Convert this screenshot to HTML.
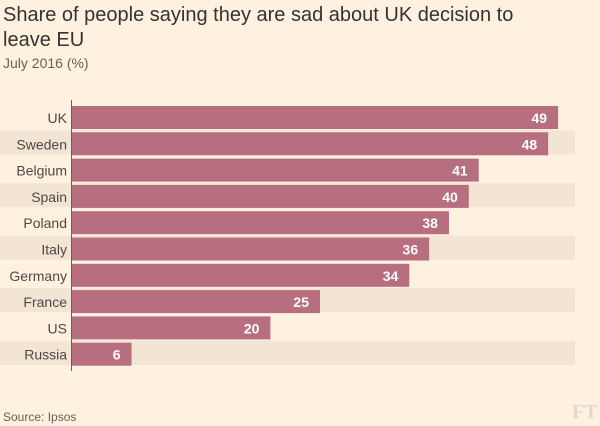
<!DOCTYPE html>
<html><head><meta charset="utf-8"><style>
body{margin:0;background:#fff1e0;width:600px;height:426px;overflow:hidden;font-family:"Liberation Sans",sans-serif;}
#t{position:absolute;left:3px;top:3px;font-size:20px;line-height:25px;color:#333;width:555px;}
#s{position:absolute;left:3px;top:55px;font-size:14px;color:#66605c;}
#src{position:absolute;left:3px;top:410px;font-size:12px;color:#66605c;}
#ft{position:absolute;left:572px;top:401px;font-size:20px;font-family:"Liberation Serif",serif;color:#e0d8cc;font-weight:bold;}
</style></head><body>
<div id="t">Share of people saying they are sad about UK decision to leave EU</div>
<div id="s">July 2016 (%)</div>
<svg id="c" width="600" height="426" style="position:absolute;left:0;top:0"></svg>
<div id="src">Source: Ipsos</div>
<div id="ft">FT</div>
<script>
const categories=["UK","Sweden","Belgium","Spain","Poland","Italy","Germany","France","US","Russia"];
const values=[49,48,41,40,38,36,34,25,20,6];
const svg=document.getElementById('c');
const NS='http://www.w3.org/2000/svg';
const x0=72, xs=9.92, y0=104, pitch=26.3;
function X(v){return x0+v*xs;}
function Y(i){return y0+i*pitch;}
function mk(tag,a){const e=document.createElementNS(NS,tag);for(const k in a)e.setAttribute(k,a[k]);svg.appendChild(e);return e;}
categories.forEach((c,i)=>{
  if(i%2==1){const r=mk('rect',{x:0,y:Y(i),width:575,height:pitch-2,fill:'#f2e5d4'});
  
  }
});
categories.forEach((c,i)=>{
  const b=mk('rect',{x:x0,y:Y(i)+2,width:X(values[i])-x0,height:23,fill:'#b76e7e'});
  
  
  const l=mk('text',{x:67,y:Y(i)+19,'text-anchor':'end','font-size':14,fill:'#4d4845'});
  l.textContent=c;
  
  
  const v=mk('text',{x:X(values[i])-11,y:Y(i)+19,'text-anchor':'end','font-size':14,'font-weight':'bold',fill:'#fff'});
  v.textContent=values[i];
  
  
});
const ax=mk('line',{x1:71.5,x2:71.5,y1:100,y2:371,stroke:'#66605c','stroke-width':1});


</script>
</body></html>
